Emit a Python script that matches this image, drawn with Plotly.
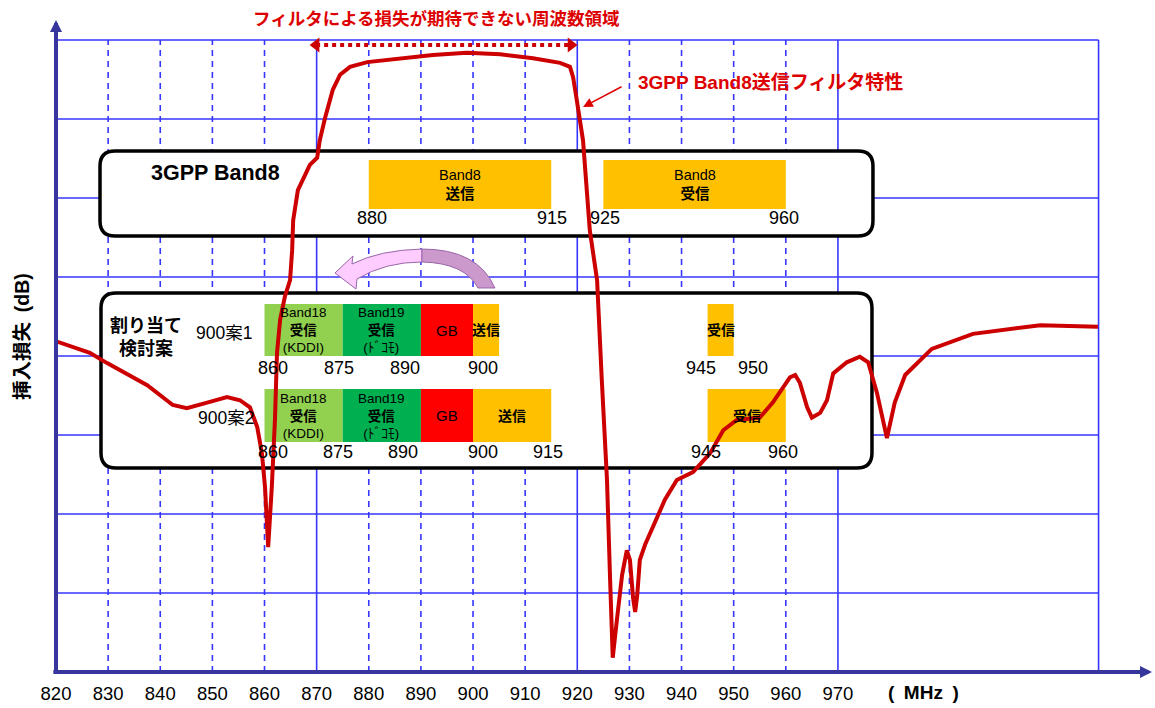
import plotly.graph_objects as go

# ---------------------------------------------------------------------------
# Insertion-loss response of the 3GPP Band8 transmit filter
# ---------------------------------------------------------------------------
freq_mhz = [819.4, 826.5, 829.8, 837.5, 842.4, 845.1, 849.0, 852.8, 855.3, 857.2,
            858.6, 859.5, 860.1, 860.7, 861.4, 862.0, 862.4, 863.0, 863.9, 864.9,
            865.3, 865.5, 866.4, 868.7, 870.1, 870.6, 871.6, 873.1, 874.5, 876.4,
            879.7, 886.0, 892.3, 898.8, 905.2, 911.5, 916.7, 918.6, 919.2, 919.9,
            920.5, 921.1, 922.4, 923.8, 924.7, 925.7, 926.3, 926.8, 927.6, 928.6,
            929.5, 930.1, 930.7, 931.1, 931.5, 932.0, 933.0, 934.9, 936.8, 939.1,
            942.2, 945.5, 948.0, 950.6, 955.0, 957.5, 960.8, 961.8, 962.7, 964.1,
            965.0, 966.6, 967.9, 969.1, 971.7, 974.2, 975.8, 977.5, 979.4, 980.9,
            982.9, 988.0, 995.9, 1008.8, 1019.9]
loss_db = [-38.0, -39.6, -40.9, -43.7, -46.2, -46.6, -45.9, -45.2, -45.6, -46.5,
           -49.0, -52.3, -56.6, -64.2, -56.6, -48.1, -39.6, -35.4, -32.5, -30.4,
           -26.6, -22.8, -19.0, -15.8, -14.9, -12.7, -9.9, -6.3, -4.4, -3.4,
           -2.8, -2.3, -1.9, -1.6, -1.8, -2.3, -2.9, -3.4, -4.7, -7.6,
           -10.1, -12.7, -24.1, -30.4, -43.0, -55.7, -68.4, -78.2, -73.4, -67.7,
           -64.6, -65.8, -70.6, -72.4, -70.3, -65.8, -63.9, -61.0, -58.2, -55.7,
           -54.7, -52.3, -49.4, -48.1, -47.8, -45.9, -42.7, -42.4, -43.4, -46.5,
           -47.8, -47.2, -45.6, -42.2, -40.8, -40.1, -40.8, -44.7, -50.4, -45.9,
           -42.4, -39.1, -37.2, -36.1, -36.3]

# x-axis tick labels
tick_freqs = [820, 830, 840, 850, 860, 870, 880, 890, 900, 910, 920, 930, 940, 950, 960, 970]
tick_labels = [str(f) for f in tick_freqs]

# 3GPP Band8 allocation
band8_names = ["Band8<br><b>送信</b>", "Band8<br><b>受信</b>"]
band8_start = [880, 925]
band8_end = [915, 960]
band8_edges = [880, 915, 925, 960]

# 900MHz allocation, plan 1
plan1_names = ["Band18<br><b>受信</b><br>(KDDI)", "Band19<br><b>受信</b><br>(ﾄﾞｺﾓ)", "GB",
               "<b>送信</b>", "<b>受信</b>"]
plan1_start = [860, 875, 890, 900, 945]
plan1_end = [875, 890, 900, 905, 950]
plan1_edges = [860, 875, 890, 900, 945, 950]

# 900MHz allocation, plan 2
plan2_names = ["Band18<br><b>受信</b><br>(KDDI)", "Band19<br><b>受信</b><br>(ﾄﾞｺﾓ)", "GB",
               "<b>送信</b>", "<b>受信</b>"]
plan2_start = [860, 875, 890, 900, 945]
plan2_end = [875, 890, 900, 915, 960]
plan2_edges = [860, 875, 890, 900, 915, 945, 960]

# ---------------------------------------------------------------------------
# Styling
# ---------------------------------------------------------------------------
FONT = "Liberation Sans, Arial, Noto Sans CJK JP, sans-serif"
RED = "#cc0000"
TEXT_RED = "#dd0000"
GRID = "#3636ff"
AXIS = "#36369c"
ORANGE = "#FFC000"
LIGHT_GREEN = "#92D050"
GREEN = "#00B050"
GB_RED = "#FF0000"
plan_colors = [LIGHT_GREEN, GREEN, GB_RED, ORANGE, ORANGE]
plan_text_sizes = [13.5, 13.5, 15, 14, 14]

X_MIN, X_MAX = 820, 1030.25
Y_MIN, Y_MAX = -80, 2.53
GRID_RIGHT = 1020

# vertical placement of each allocation row (dB units) and its edge labels
band8_row = (-21.39, -15.19, -22.53)
plan1_row = (-40.0, -33.42, -41.52)
plan2_row = (-50.89, -44.18, -52.15)

# horizontal pixel nudges for edge labels
band8_nudge = [3, 1, 2, -2]
plan1_nudge = [8, -4, -16, 10, -7, 19]
plan2_nudge = [8, -5, -18, 10, -3, -2, -3]

shapes = []
annotations = []

# grid
for level in range(-70, 1, 10):
    shapes.append(dict(type="line", xref="x", yref="y", x0=X_MIN, x1=GRID_RIGHT,
                       y0=level, y1=level, layer="below",
                       line=dict(color=GRID, width=1.6)))
for f in list(range(830, 980, 10)) + [GRID_RIGHT]:
    solid = f in (870, 920, 970, GRID_RIGHT)
    shapes.append(dict(type="line", xref="x", yref="y", x0=f, x1=f,
                       y0=Y_MIN, y1=0, layer="below",
                       line=dict(color=GRID, width=1.6,
                                 dash="solid" if solid else "6px,5px")))


def rounded_box(x0, x1, y0, y1, rx, ry):
    return (f"M{x0 + rx},{y1} L{x1 - rx},{y1} Q{x1},{y1} {x1},{y1 - ry} "
            f"L{x1},{y0 + ry} Q{x1},{y0} {x1 - rx},{y0} L{x0 + rx},{y0} "
            f"Q{x0},{y0} {x0},{y0 + ry} L{x0},{y1 - ry} Q{x0},{y1} {x0 + rx},{y1} Z")


for (bx0, bx1, by0, by1) in [(828.44, 976.72, -24.81, -14.05),
                             (828.63, 976.53, -54.18, -32.03)]:
    shapes.append(dict(type="path", xref="x", yref="y", layer="below",
                       path=rounded_box(bx0, bx1, by0, by1, 2.9, 1.9),
                       fillcolor="white", line=dict(color="black", width=3.5)))


def add_row(names, starts, ends, colors, row, text_sizes):
    y0, y1, _ = row
    for name, s, e, c, ts in zip(names, starts, ends, colors, text_sizes):
        shapes.append(dict(type="rect", xref="x", yref="y", x0=s, x1=e, y0=y0, y1=y1,
                           layer="below", fillcolor=c, line=dict(width=0)))
        annotations.append(dict(x=(s + e) / 2, y=(y0 + y1) / 2, xref="x", yref="y",
                                text=name, showarrow=False,
                                font=dict(family=FONT, size=ts, color="black")))


def add_edges(edges, row, nudges):
    for v, dx in zip(edges, nudges):
        annotations.append(dict(x=v, y=row[2], xref="x", yref="y", text=str(v),
                                showarrow=False, xshift=dx,
                                font=dict(family=FONT, size=18, color="black")))


add_row(band8_names, band8_start, band8_end, [ORANGE, ORANGE], band8_row, [14.5, 14.5])
add_row(plan1_names, plan1_start, plan1_end, plan_colors, plan1_row, plan_text_sizes)
add_row(plan2_names, plan2_start, plan2_end, plan_colors, plan2_row, plan_text_sizes)
add_edges(band8_edges, band8_row, band8_nudge)
add_edges(plan1_edges, plan1_row, plan1_nudge)
add_edges(plan2_edges, plan2_row, plan2_nudge)

# curved arrow between the two boxes
shapes.append(dict(type="path", xref="x", yref="y", layer="below",
                   path=("M873.52,-29.49 L876.97,-27.34 L876.78,-28.35 "
                         "Q882.15,-26.58 890.21,-26.46 L890.21,-28.10 "
                         "Q883.11,-28.10 877.74,-30.25 L877.55,-31.52 Z"),
                   fillcolor="#ffccff", line=dict(color="#9966aa", width=1)))
shapes.append(dict(type="path", xref="x", yref="y", layer="below",
                   path=("M890.21,-26.46 Q900.95,-26.46 904.21,-31.39 "
                         "L900.95,-31.39 Q898.46,-28.23 890.21,-28.10 Z"),
                   fillcolor="#cc99cc", line=dict(color="#9966aa", width=1)))

# dotted range marker above the passband
shapes.append(dict(type="line", xref="x", yref="y", x0=869.9, x1=918.8,
                   y0=-0.63, y1=-0.63, layer="above",
                   line=dict(color=RED, width=4, dash="4px,4px")))

# axes drawn as arrows
annotations.append(dict(x=X_MAX, y=Y_MIN, ax=819.2, ay=Y_MIN, xref="x", yref="y",
                        axref="x", ayref="y", text="", showarrow=True,
                        arrowhead=2, arrowsize=0.6, arrowwidth=4, arrowcolor=AXIS))
annotations.append(dict(x=820, y=Y_MAX, ax=820, ay=Y_MIN - 0.3, xref="x", yref="y",
                        axref="x", ayref="y", text="", showarrow=True,
                        arrowhead=2, arrowsize=0.6, arrowwidth=4, arrowcolor=AXIS))

# texts
annotations += [
    dict(x=893.0, y=1.0015, xref="x", yref="paper", xanchor="center", yanchor="middle",
         showarrow=False, text="<b>フィルタによる損失が期待できない周波数領域</b>",
         font=dict(family=FONT, size=17.5, color=TEXT_RED)),
    dict(x=957.16, y=-5.32, xref="x", yref="y", showarrow=False,
         text="<b>3GPP Band8送信フィルタ特性</b>",
         font=dict(family=FONT, size=19, color=TEXT_RED)),
    dict(x=921.1, y=-8.48, xref="x", yref="y", ax=40, ay=-21, text="",
         showarrow=True, arrowhead=2, arrowsize=1.3, arrowwidth=1.5,
         arrowcolor=TEXT_RED),
    dict(x=850.6, y=-16.84, xref="x", yref="y", showarrow=False,
         text="<b>3GPP Band8</b>", font=dict(family=FONT, size=21.5, color="black")),
    dict(x=837.3, y=-37.6, xref="x", yref="y", showarrow=False,
         text="<b>割り当て<br>検討案</b>", font=dict(family=FONT, size=18, color="black")),
    dict(x=852.2, y=-37.1, xref="x", yref="y", showarrow=False,
         text="900案1", font=dict(family=FONT, size=17.5, color="black")),
    dict(x=852.6, y=-47.85, xref="x", yref="y", showarrow=False,
         text="900案2", font=dict(family=FONT, size=17.5, color="black")),
    dict(x=986.5, y=-0.032, xref="x", yref="paper", xanchor="center", yanchor="middle",
         showarrow=False, text="<b>(\u2002MHz\u2002)</b>",
         font=dict(family=FONT, size=19, color="black")),
    dict(x=-0.031, y=-37.59, xref="paper", yref="y", xanchor="center", yanchor="middle",
         showarrow=False, textangle=-90, text="<b>挿入損失\u2002(dB)</b>",
         font=dict(family=FONT, size=19.5, color="black")),
]

fig = go.Figure()
fig.add_trace(go.Scatter(x=freq_mhz, y=loss_db, mode="lines",
                         line=dict(color=RED, width=4), hoverinfo="skip"))
fig.add_trace(go.Scatter(x=[869.9, 918.8], y=[-0.63, -0.63], mode="markers",
                         marker=dict(symbol=["triangle-left", "triangle-right"],
                                     size=13, color=RED), hoverinfo="skip"))

fig.update_layout(
    width=1155, height=708,
    margin=dict(l=56, r=3, t=20, b=36, pad=0),
    paper_bgcolor="white", plot_bgcolor="white",
    showlegend=False,
    shapes=shapes, annotations=annotations,
    xaxis=dict(range=[X_MIN, X_MAX], showgrid=False, zeroline=False, showline=False,
               tickmode="array", tickvals=tick_freqs, ticktext=tick_labels,
               ticks="outside", ticklen=5, tickcolor="rgba(0,0,0,0)",
               tickfont=dict(family=FONT, size=18.5, color="black")),
    yaxis=dict(range=[Y_MIN, Y_MAX], visible=False),
)

fig.write_html("out.html")
